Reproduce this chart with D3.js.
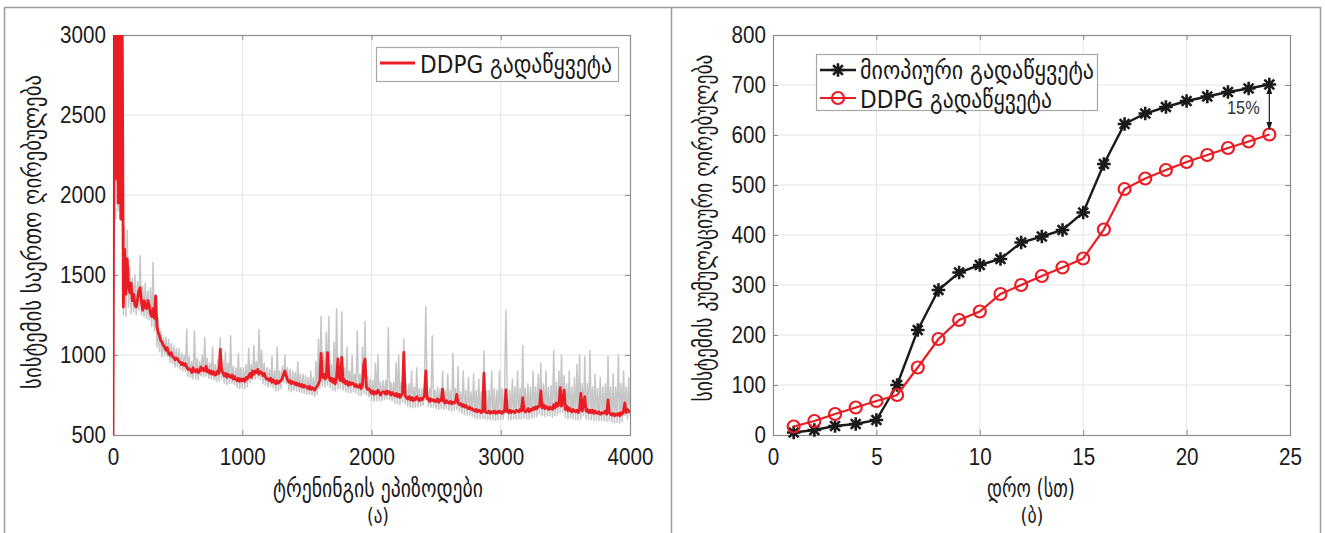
<!DOCTYPE html>
<html>
<head>
<meta charset="utf-8">
<script src="https://cdn.jsdelivr.net/npm/d3@7"></script>
<style>
body { margin: 0; background: #fff; }
svg { display: block; }
.tick text { font-family: "Liberation Sans", Arial, sans-serif; font-size: 24px; fill: #1a1a1a; }
.geo { font-family: "DejaVu Sans", sans-serif; fill: #1a1a1a; }
</style>
</head>
<body>
<svg id="fig" width="1325" height="533"></svg>
<script>
// ---- panel (a): training cost, one value every 10 episodes ----
var episodeStep = 10;
var ddpgCost = [
 500, 3600, 2100, 3800, 1950, 3700, 1850, 3400, 1300, 1660,
 1380, 1600, 1430, 1390, 1450, 1340, 1380, 1310, 1300, 1350,
 1400, 1420, 1330, 1280, 1340, 1300, 1290, 1340, 1310, 1260,
 1240, 1290, 1230, 1370, 1180, 1140, 1120, 1090, 1080, 1060,
 1050, 1030, 1045, 1010, 1000, 1015, 990, 985, 970, 980,
 975, 960, 955, 940, 950, 935, 945, 925, 910, 915,
 905, 890, 920, 900, 895, 910, 890, 900, 925, 905,
 915, 900, 930, 895, 905, 885, 900, 880, 895, 875,
 880, 900, 885, 1035, 905, 890, 870, 885, 860, 880,
 870, 860, 875, 850, 865, 850, 840, 855, 835, 850,
 840, 850, 835, 860, 850, 870, 885, 860, 900, 880,
 900, 890, 910, 880, 895, 890, 870, 885, 860, 850,
 850, 840, 855, 830, 845, 830, 820, 840, 825, 835,
 840, 855, 880, 900, 870, 845, 830, 840, 820, 830,
 830, 815, 825, 810, 820, 805, 815, 800, 810, 800,
 800, 790, 805, 785, 795, 790, 780, 795, 805, 820,
 840, 1010, 860, 880, 850, 860, 1015, 870, 840, 855,
 830, 850, 820, 860, 975, 860, 840, 985, 830, 845,
 820, 835, 810, 830, 815, 825, 820, 805, 815, 800,
 800, 815, 790, 810, 940, 975, 800, 785, 790, 775,
 760, 775, 755, 770, 760, 780, 765, 750, 765, 770,
 770, 755, 775, 760, 770, 750, 765, 755, 745, 760,
 740, 755, 735, 750, 760, 1016, 745, 735, 725, 740,
 720, 735, 715, 730, 720, 740, 725, 715, 730, 720,
 730, 745, 900, 725, 730, 710, 725, 715, 720, 710,
 710, 725, 705, 720, 715, 786, 710, 700, 715, 705,
 700, 710, 695, 705, 700, 710, 754, 700, 690, 695,
 680, 690, 675, 685, 670, 665, 675, 660, 665, 655,
 650, 660, 645, 655, 650, 640, 650, 886, 645, 640,
 640, 650, 635, 645, 640, 650, 635, 645, 640, 650,
 640, 635, 650, 645, 782, 650, 640, 655, 640, 650,
 645, 640, 655, 650, 645, 660, 650, 733, 655, 645,
 650, 665, 645, 660, 655, 670, 660, 675, 665, 680,
 680, 775, 670, 690, 665, 680, 670, 660, 675, 665,
 660, 690, 670, 700, 680, 690, 796, 680, 700, 780,
 660, 680, 650, 670, 655, 645, 660, 650, 645, 655,
 640, 660, 760, 650, 690, 740, 650, 660, 640, 655,
 640, 655, 635, 650, 640, 635, 645, 630, 640, 635,
 640, 650, 630, 720, 640, 630, 625, 635, 620, 630,
 625, 635, 620, 640, 630, 650, 700, 640, 660, 650,
 640
];
var rawCost = [
 500, 3500, 1850, 3600, 1900, 3300, 2000, 3200, 1250, 1800,
 1240, 1780, 1300, 1550, 1260, 1480, 1270, 1500, 1250, 1460,
 1280, 1620, 1250, 1430, 1240, 1450, 1230, 1400, 1220, 1420,
 1180, 1580, 1150, 1360, 1050, 1230, 1020, 1150, 990, 1110,
 1000, 1110, 990, 1099, 955, 1070, 945, 1060, 925, 1040,
 925, 1040, 910, 1010, 900, 1000, 895, 1162, 865, 990,
 860, 960, 850, 1150, 850, 980, 845, 960, 870, 1000,
 865, 1110, 870, 980, 855, 950, 850, 1050, 845, 940,
 835, 970, 835, 1110, 850, 960, 825, 1020, 815, 950,
 820, 1120, 825, 930, 815, 920, 795, 1010, 790, 920,
 795, 920, 790, 940, 800, 1040, 830, 940, 845, 1060,
 850, 960, 860, 1160, 845, 1030, 820, 950, 810, 920,
 800, 910, 805, 990, 795, 900, 775, 1050, 780, 900,
 790, 930, 830, 1000, 820, 920, 780, 910, 770, 900,
 780, 890, 775, 960, 770, 880, 765, 880, 760, 870,
 755, 860, 755, 900, 750, 860, 740, 960, 755, 1100,
 790, 1240, 805, 1020, 800, 1140, 810, 1240, 795, 940,
 780, 1080, 775, 1290, 790, 930, 790, 1270, 780, 920,
 770, 1050, 765, 900, 765, 1000, 770, 880, 765, 1150,
 750, 880, 745, 1050, 760, 1210, 750, 860, 740, 850,
 715, 840, 710, 950, 715, 1000, 715, 830, 715, 840,
 720, 840, 725, 1170, 720, 830, 715, 830, 700, 950,
 695, 1000, 690, 830, 705, 1100, 695, 820, 680, 820,
 675, 900, 670, 800, 675, 920, 675, 790, 680, 790,
 685, 820, 1302, 800, 680, 790, 675, 1120, 675, 780,
 665, 800, 660, 790, 665, 900, 660, 780, 665, 880,
 655, 780, 650, 1010, 655, 790, 660, 930, 645, 770,
 635, 900, 630, 780, 625, 860, 625, 770, 615, 880,
 605, 780, 600, 850, 605, 770, 605, 1026, 600, 780,
 595, 780, 595, 900, 595, 790, 590, 780, 595, 900,
 595, 790, 600, 800, 1280, 790, 595, 780, 595, 850,
 600, 800, 600, 900, 600, 790, 600, 1060, 605, 790,
 600, 820, 600, 800, 605, 900, 610, 800, 615, 880,
 630, 950, 620, 820, 615, 900, 620, 800, 620, 810,
 610, 1030, 620, 830, 625, 900, 640, 1000, 640, 870,
 610, 820, 600, 900, 605, 800, 600, 860, 595, 940,
 595, 1000, 600, 820, 620, 990, 600, 820, 595, 1030,
 595, 800, 590, 880, 590, 790, 590, 860, 590, 800,
 590, 820, 585, 990, 590, 800, 580, 880, 575, 800,
 580, 1000, 575, 820, 585, 900, 620, 800, 600, 860,
 620
];
var episodeTicks = [0, 1000, 2000, 3000, 4000];
var costTicks = [500, 1000, 1500, 2000, 2500, 3000];

// ---- panel (b): cumulative cost per hour ----
var hours = [1, 2, 3, 4, 5, 6, 7, 8, 9, 10, 11, 12, 13, 14, 15, 16, 17, 18, 19, 20, 21, 22, 23, 24];
var myopicCum = [5, 10, 18, 22, 30, 100, 210, 290, 325, 340, 352, 385, 397, 410, 445, 542, 622, 643, 656, 668, 677, 686, 693, 701];
var ddpgCum = [17, 28, 42, 55, 68, 80, 135, 192, 230, 247, 282, 300, 318, 335, 353, 411, 492, 513, 530, 546, 560, 574, 587, 601];
var hourTicks = [0, 5, 10, 15, 20, 25];
var cumTicks = [0, 100, 200, 300, 400, 500, 600, 700, 800];
var gapLabel = "15%";
var gapFrom = 697, gapTo = 611;

var RED = "#ea1c24", BLACK = "#1a1a1a", GRAY = "#c6c6c6";
var NARROW = 0.86;   // horizontal squeeze applied to tick numbers
var svg = d3.select("#fig");

// outer frame and divider
var frame = svg.append("g").attr("stroke", "#9c9c9c").attr("stroke-width", 1.5).attr("fill", "none");
frame.append("path").attr("d", "M4.5,533 V7.5 H1320.5 V533");
frame.append("path").attr("d", "M671.5,7.5 V533");

// Georgian labels: measured, then squeezed to the wanted length
function geoText(g, str, x, y, len, size, rot) {
    var t = g.append("text").attr("class", "geo")
        .attr("text-anchor", "middle")
        .attr("dominant-baseline", "central")
        .style("font-size", size + "px")
        .text(str);
    var sx = len / t.node().getComputedTextLength();
    t.attr("transform", "translate(" + x + "," + y + ")" + (rot ? " rotate(-90)" : "") + " scale(" + sx + ",1)");
    return t;
}

function drawFrame(g, x, y, xt, yt) {
    var x0 = x.range()[0], x1 = x.range()[1], y0 = y.range()[0], y1 = y.range()[1];
    // grid
    g.append("g").selectAll("line").data(xt.slice(1, -1)).join("line")
        .attr("x1", d => x(d)).attr("x2", d => x(d)).attr("y1", y0).attr("y2", y1)
        .attr("stroke", "#e4e4e4").attr("stroke-width", 1);
    g.append("g").selectAll("line").data(yt.slice(1, -1)).join("line")
        .attr("x1", x0).attr("x2", x1).attr("y1", d => y(d)).attr("y2", d => y(d))
        .attr("stroke", "#e4e4e4").attr("stroke-width", 1);

    var bottom = g.append("g").attr("transform", "translate(0," + y0 + ")")
        .call(d3.axisBottom(x).tickValues(xt).tickFormat(d => d).tickSizeInner(-5).tickSizeOuter(0).tickPadding(13));
    var left = g.append("g").attr("transform", "translate(" + x0 + ",0)")
        .call(d3.axisLeft(y).tickValues(yt).tickFormat(d => d).tickSizeInner(-5).tickSizeOuter(0).tickPadding(7));
    var top = g.append("g").attr("transform", "translate(0," + y1 + ")")
        .call(d3.axisTop(x).tickValues(xt).tickSizeInner(-5).tickSizeOuter(0).tickFormat(""));
    var right = g.append("g").attr("transform", "translate(" + x1 + ",0)")
        .call(d3.axisRight(y).tickValues(yt).tickSizeInner(-5).tickSizeOuter(0).tickFormat(""));
    [bottom, left, top, right].forEach(a => {
        a.select(".domain").remove();
        a.selectAll(".tick line").attr("stroke", "#8c8c8c");
        a.attr("font-family", null).attr("font-size", null);
    });
    bottom.selectAll(".tick text").attr("transform", "scale(" + NARROW + ",1)");
    left.selectAll(".tick text").attr("transform", "scale(" + NARROW + ",1)").attr("x", -7 / NARROW);

    g.append("rect").attr("x", x0 + 0.5).attr("y", y1 + 0.5)
        .attr("width", x1 - x0).attr("height", y0 - y1)
        .attr("fill", "none").attr("stroke", "#8c8c8c").attr("stroke-width", 1.2);
}

// ---- panel (a) ----
var xa = d3.scaleLinear().domain([0, 4000]).range([113, 630]);
var ya = d3.scaleLinear().domain([500, 3000]).range([435, 35]);
var ga = svg.append("g");
drawFrame(ga, xa, ya, episodeTicks, costTicks);

svg.append("clipPath").attr("id", "clipA").append("rect")
    .attr("x", 113).attr("y", 35).attr("width", 517).attr("height", 400);

var costLine = d3.line().x((d, i) => xa(i * episodeStep)).y(d => ya(d));
var plotA = ga.append("g").attr("clip-path", "url(#clipA)");
plotA.append("path").datum(rawCost).attr("d", costLine)
    .attr("fill", "none").attr("stroke", GRAY).attr("stroke-width", 1.5).attr("stroke-linejoin", "round");
plotA.append("path").datum(ddpgCost).attr("d", costLine)
    .attr("fill", "none").attr("stroke", RED).attr("stroke-width", 2.8).attr("stroke-linejoin", "round");

// legend (a)
var la = ga.append("g");
la.append("rect").attr("x", 376.5).attr("y", 47.5).attr("width", 242).attr("height", 34)
    .attr("fill", "#fff").attr("stroke", "#a8a8a8").attr("stroke-width", 1.2);
la.append("line").attr("x1", 380).attr("x2", 415).attr("y1", 63).attr("y2", 63)
    .attr("stroke", RED).attr("stroke-width", 3);
geoText(la, "DDPG გადაწყვეტა", 516, 64, 192, 25);

geoText(ga, "ტრენინგის ეპიზოდები", 378, 488, 210, 25);
geoText(ga, "სისტემის საერთო ღირებულება", 32, 232, 314, 25, true);
geoText(ga, "(ა)", 378, 516, 22, 21);

// ---- panel (b) ----
var xb = d3.scaleLinear().domain([0, 25]).range([773, 1290]);
var yb = d3.scaleLinear().domain([0, 800]).range([435, 35]);
var gb = svg.append("g");
drawFrame(gb, xb, yb, hourTicks, cumTicks);

var cumLine = d3.line().x((d, i) => xb(hours[i])).y(d => yb(d));
var starPath = (function (s) {
    var a = s * 0.72;
    return "M" + (-s) + ",0H" + s + "M0," + (-s) + "V" + s +
        "M" + (-a) + "," + (-a) + "L" + a + "," + a + "M" + (-a) + "," + a + "L" + a + "," + (-a);
})(6.8);

gb.append("path").datum(myopicCum).attr("d", cumLine)
    .attr("fill", "none").attr("stroke", BLACK).attr("stroke-width", 2.4);
gb.append("g").selectAll("path").data(myopicCum).join("path")
    .attr("transform", (d, i) => "translate(" + xb(hours[i]) + "," + yb(d) + ")")
    .attr("d", starPath).attr("stroke", BLACK).attr("stroke-width", 2.6).attr("fill", "none");

gb.append("path").datum(ddpgCum).attr("d", cumLine)
    .attr("fill", "none").attr("stroke", RED).attr("stroke-width", 2.2);
gb.append("g").selectAll("circle").data(ddpgCum).join("circle")
    .attr("cx", (d, i) => xb(hours[i])).attr("cy", d => yb(d)).attr("r", 6)
    .attr("fill", "none").attr("stroke", RED).attr("stroke-width", 2.2);

// gap annotation between the two final totals
var defs = svg.append("defs");
defs.append("marker").attr("id", "arrowHead").attr("viewBox", "0 0 10 10")
    .attr("refX", 9).attr("refY", 5).attr("markerWidth", 7).attr("markerHeight", 7)
    .attr("orient", "auto-start-reverse")
    .append("path").attr("d", "M0,1.5L10,5L0,8.5Z").attr("fill", BLACK);
var lastX = xb(hours[hours.length - 1]);
gb.append("line").attr("x1", lastX).attr("x2", lastX)
    .attr("y1", yb(gapFrom)).attr("y2", yb(gapTo))
    .attr("stroke", BLACK).attr("stroke-width", 1.2)
    .attr("marker-start", "url(#arrowHead)").attr("marker-end", "url(#arrowHead)");
gb.append("text").attr("x", (lastX - 26) / NARROW).attr("y", yb((gapFrom + gapTo) / 2))
    .attr("transform", "scale(" + NARROW + ",1)")
    .attr("text-anchor", "middle").attr("dominant-baseline", "central")
    .style("font-family", "Liberation Sans, Arial, sans-serif")
    .style("font-size", "19px").attr("fill", "#333").text(gapLabel);

// legend (b)
var lb = gb.append("g");
lb.append("rect").attr("x", 816.5).attr("y", 54.5).attr("width", 281).attr("height", 56)
    .attr("fill", "#fff").attr("stroke", "#a8a8a8").attr("stroke-width", 1.2);
lb.append("line").attr("x1", 820).attr("x2", 856).attr("y1", 70).attr("y2", 70)
    .attr("stroke", BLACK).attr("stroke-width", 2.4);
lb.append("path").attr("transform", "translate(838,70)").attr("d", starPath)
    .attr("stroke", BLACK).attr("stroke-width", 2.6);
geoText(lb, "მიოპიური გადაწყვეტა", 977, 71, 234, 25);
lb.append("line").attr("x1", 820).attr("x2", 856).attr("y1", 98).attr("y2", 98)
    .attr("stroke", RED).attr("stroke-width", 2.2);
lb.append("circle").attr("cx", 838).attr("cy", 98).attr("r", 6)
    .attr("fill", "none").attr("stroke", RED).attr("stroke-width", 2.2);
geoText(lb, "DDPG გადაწყვეტა", 956, 99, 192, 25);

geoText(gb, "დრო (სთ)", 1031, 488, 88, 25);
geoText(gb, "სისტემის კუმულაციური ღირებულება", 703, 228, 347, 25, true);
geoText(gb, "(ბ)", 1032, 516, 23, 21);
</script>
</body>
</html>
